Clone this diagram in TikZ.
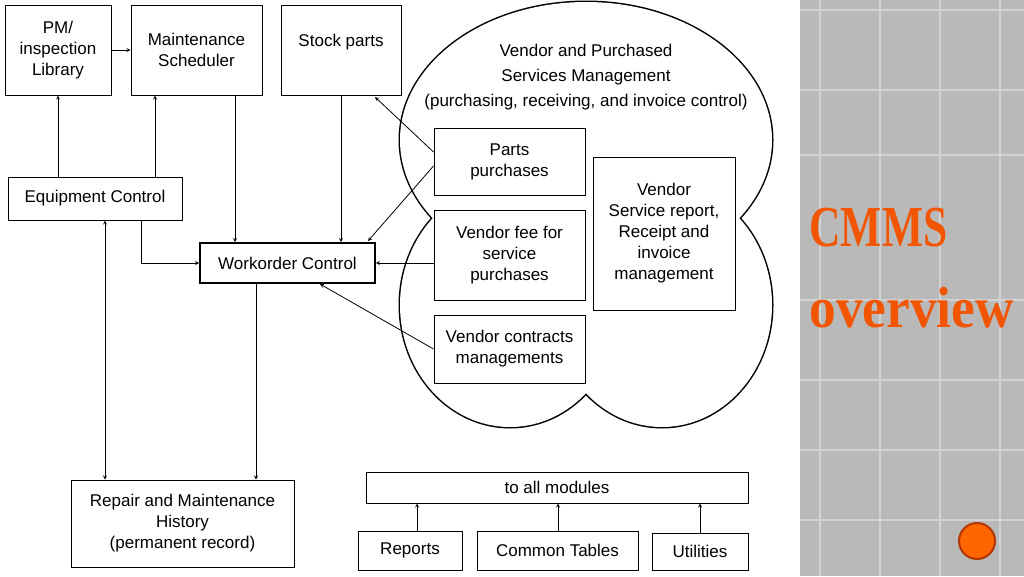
\documentclass[tikz,border=0pt]{standalone}
\usepackage{fontspec}
\setmainfont{Liberation Sans}
\newfontfamily\titlefont{Liberation Serif}
\begin{document}
\begin{tikzpicture}[x=1pt,y=-1pt,
  box/.style={draw,line width=1pt,align=center,font=\fontsize{17}{21}\selectfont,inner sep=0pt},
  arr/.style={->,>=stealth,line width=0.8pt}]
\useasboundingbox (0,0) rectangle (1024,576);
\fill[white] (0,0) rectangle (800,576);
% right panel
\fill[gray!55] (800,0) rectangle (1024,576);
\foreach \x in {820,880,940,1000} \draw[gray!35,line width=1.5pt] (\x,0)--(\x,576);
\foreach \y in {10,90,155,300,380,450,520} \draw[gray!35,line width=1.5pt] (800,\y)--(1024,\y);
\node[text=orange!70!red!95!black,font=\titlefont\bfseries\fontsize{58}{60}\selectfont,anchor=west] (t1) at (806,228) {\scalebox{0.75}[1]{CMMS}};
\node[text=orange!70!red!95!black,font=\titlefont\bfseries\fontsize{58}{60}\selectfont,anchor=west] (t2) at (806,308) {\scalebox{0.92}[1]{overview}};
\node[circle,fill=orange!80!red,draw=orange!60!red!70!black,line width=2pt,minimum size=36pt] (btn) at (977,541) {};
% cloud
\foreach \c/\rx/\ry in {{(586,140)}/186/138,{(510,305)}/110/122,{(662,305)}/110/122}
  \draw[line width=3pt] \c ellipse ({\rx} and {\ry});
\foreach \c/\rx/\ry in {{(586,140)}/186/138,{(510,305)}/110/122,{(662,305)}/110/122}
  \fill[white] \c ellipse ({\rx} and {\ry});
\node[align=center,font=\fontsize{17}{25}\selectfont] (vend) at (586,77) {Vendor and Purchased\\Services Management\\(purchasing, receiving, and invoice control)};
% boxes
\node[box,minimum width=106pt,minimum height=90pt] (pm) at (58,50) {PM/\\inspection\\Library};
\node[box,minimum width=131pt,minimum height=90pt] (ms) at (196.5,50) {Maintenance\\Scheduler};
\node[box,minimum width=120pt,minimum height=90pt] (sp) at (341,50) {};
\node[font=\fontsize{17}{20}\selectfont] (spt) at (341,42) {Stock parts};
\node[box,minimum width=174pt,minimum height=43pt] (ec) at (95,198.5) {Equipment Control};
\node[box,line width=1.8pt,minimum width=175pt,minimum height=40pt] (wo) at (287.5,263) {Workorder Control};
\node[box,minimum width=151pt,minimum height=67pt] (pp) at (509.5,161.5) {Parts\\purchases};
\node[box,minimum width=151pt,minimum height=90pt] (vf) at (509.5,255) {Vendor fee for\\service\\purchases};
\node[box,minimum width=142pt,minimum height=153pt] (vs) at (664,233.5) {Vendor\\Service report,\\Receipt and\\invoice\\management};
\node[box,minimum width=151pt,minimum height=68pt] (vc) at (509.5,349) {Vendor contracts\\managements};
\node[box,minimum width=223pt,minimum height=87pt] (rh) at (182.5,523.5) {Repair and Maintenance\\History\\(permanent record)};
\node[box,minimum width=382pt,minimum height=31pt] (all) at (557,487.5) {to all modules};
\node[box,minimum width=104pt,minimum height=39pt] (rep) at (410,550.5) {Reports};
\node[box,minimum width=161pt,minimum height=39pt] (ct) at (557.5,550.5) {Common Tables};
\node[box,minimum width=96pt,minimum height=37pt] (ut) at (700,551.5) {Utilities};
% arrows
\draw[arr] (ec.north -| pm) -- (pm.south);
\draw[arr] (ec.north -| 155,0) -- (ms.south -| 155,0);
\draw[arr] (pm.east) -- (ms.west);
\draw[arr] (ms.south -| 235,0) -- (wo.north -| 235,0);
\draw[arr] (sp.south) -- (wo.north -| sp);
\draw[arr] (pp.west |- 0,152) -- (375,97);
\draw[arr] (pp.west |- 0,166) -- (368,241);
\draw[arr] (vf.west |- wo) -- (wo.east);
\draw[arr] (vc.west) -- (320,284);
\draw[arr] (ec.south -| 141,0) |- (wo.west);
\draw[arr,<->] (ec.south -| 105,0) -- (rh.north -| 105,0);
\draw[arr] (wo.south -| 256,0) -- (rh.north -| 256,0);
\draw[arr] (rep.north -| 417,0) -- (all.south -| 417,0);
\draw[arr] (ct.north -| 558,0) -- (all.south -| 558,0);
\draw[arr] (ut.north) -- (all.south -| ut);
\end{tikzpicture}
\end{document}
